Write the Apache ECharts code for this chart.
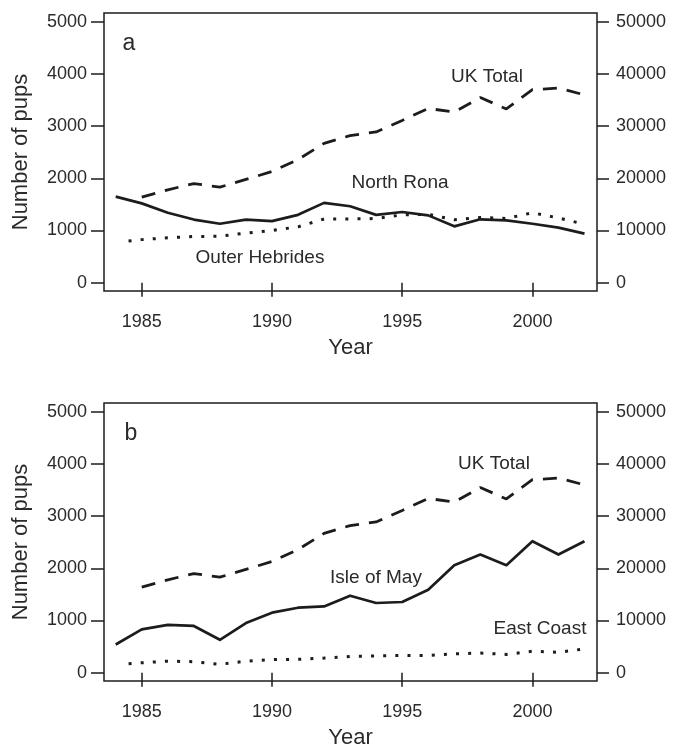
<!DOCTYPE html>
<html>
<head>
<meta charset="utf-8">
<title>Grey seal pup production</title>
<script src="https://cdn.jsdelivr.net/npm/echarts@6/dist/echarts.min.js"></script>
<style>
  html, body { margin: 0; padding: 0; background: #ffffff; }
  #chart { width: 673px; height: 751px; }
</style>
</head>
<body>
<div id="chart"></div>
<script>
// Survey years
var years = [1984, 1985, 1986, 1987, 1988, 1989, 1990, 1991, 1992, 1993,
             1994, 1995, 1996, 1997, 1998, 1999, 2000, 2001, 2002];

// UK total pup production, 1985-2002 (right axis)
var ukTotalYears = [1985, 1986, 1987, 1988, 1989, 1990, 1991, 1992, 1993,
                    1994, 1995, 1996, 1997, 1998, 1999, 2000, 2001, 2002];
var ukTotal = [16400, 17800, 19000, 18300, 19800, 21300, 23600, 26700, 28200,
               28900, 31100, 33400, 32700, 35500, 33300, 37000, 37300, 36000];

// Panel a: North Rona (left axis), Outer Hebrides (right axis)
var northRona = [1650, 1520, 1340, 1210, 1130, 1210, 1180, 1300, 1530, 1465,
                 1300, 1355, 1290, 1080, 1215, 1195, 1130, 1055, 940];
var outerHebrides = [7700, 8250, 8600, 8850, 8900, 9500, 10000, 10700, 12200, 12200,
                     12300, 13000, 13100, 12050, 12500, 12300, 13400, 12400, 11200];

// Panel b: Isle of May (left axis), East Coast (right axis)
var isleOfMay = [540, 830, 915, 895, 630, 950, 1150, 1245, 1270, 1475,
                 1335, 1355, 1590, 2060, 2265, 2060, 2520, 2265, 2520];
var eastCoast = [1500, 1900, 2200, 2100, 1600, 2200, 2500, 2550, 2800, 3100,
                 3200, 3300, 3300, 3600, 3750, 3500, 4100, 3900, 4550];

// Tick labels
var yearTicks = [1985, 1990, 1995, 2000];
var leftTicks = [0, 1000, 2000, 3000, 4000, 5000];
var rightTicks = [0, 10000, 20000, 30000, 40000, 50000];

function pairs(xs, ys) {
  return xs.map(function (x, i) { return [x, ys[i]]; });
}

var INK = '#1c1c1c';
var TEXT = '#2a2a2a';
var FONT = '"Liberation Sans", Arial, Helvetica, sans-serif';

// Dotted pattern: leading gap, then small square dots
var dotted = [0, 12.9];
for (var k = 0; k < 60; k++) { dotted.push(3, 9.15); }

var solidStyle = { color: INK, width: 2.7, type: 'solid', join: 'round' };
var dashedStyle = { color: INK, width: 2.8, type: [14, 10], cap: 'butt' };
var dottedStyle = { color: INK, width: 3, type: dotted, cap: 'butt' };

function xAxisFor(gridIndex) {
  return {
    type: 'value', gridIndex: gridIndex,
    min: 1983.55, max: 2002.48,
    axisLine: { show: false },
    axisTick: { show: true, inside: false, length: 14, customValues: yearTicks,
                lineStyle: { color: INK, width: 1.5 } },
    axisLabel: { customValues: yearTicks, margin: 22, fontSize: 18, color: TEXT,
                 fontFamily: FONT, formatter: function (v) { return String(v); } },
    splitLine: { show: false },
    name: 'Year', nameLocation: 'middle', nameGap: 46,
    nameTextStyle: { fontSize: 22, color: TEXT, fontFamily: FONT }
  };
}

function leftAxisFor(gridIndex) {
  return {
    type: 'value', gridIndex: gridIndex, position: 'left',
    min: -160, max: 5170,
    axisLine: { show: false },
    axisTick: { show: true, inside: false, length: 13, customValues: leftTicks,
                lineStyle: { color: INK, width: 1.5 } },
    axisLabel: { customValues: leftTicks, margin: 17, fontSize: 18, color: TEXT,
                 fontFamily: FONT, formatter: function (v) { return String(v); } },
    splitLine: { show: false },
    name: 'Number of pups', nameLocation: 'middle', nameGap: 72, nameRotate: 90,
    nameTextStyle: { fontSize: 22, color: TEXT, fontFamily: FONT }
  };
}

function rightAxisFor(gridIndex) {
  return {
    type: 'value', gridIndex: gridIndex, position: 'right',
    min: -1600, max: 51700,
    axisLine: { show: false },
    axisTick: { show: true, inside: false, length: 12, customValues: rightTicks,
                lineStyle: { color: INK, width: 1.5 } },
    axisLabel: { customValues: rightTicks, margin: 19, fontSize: 18, color: TEXT,
                 fontFamily: FONT, formatter: function (v) { return String(v); } },
    splitLine: { show: false }
  };
}

function line(name, xs, ys, xi, yi, style) {
  return {
    name: name, type: 'line', xAxisIndex: xi, yAxisIndex: yi,
    data: pairs(xs, ys), symbol: 'none', silent: true,
    lineStyle: style
  };
}

function label(text, x, y, size) {
  return {
    type: 'text', x: x, y: y, silent: true,
    style: { text: text, fill: TEXT, font: size + 'px ' + FONT,
             align: 'center', verticalAlign: 'middle' }
  };
}

var chart = echarts.init(document.getElementById('chart'), null, { renderer: 'canvas' });
chart.setOption({
  animation: false,
  backgroundColor: '#ffffff',
  grid: [
    { left: 104, top: 13, width: 493, height: 278, show: true,
      borderColor: INK, borderWidth: 1.5, backgroundColor: 'transparent' },
    { left: 104, top: 403, width: 493, height: 278, show: true,
      borderColor: INK, borderWidth: 1.5, backgroundColor: 'transparent' }
  ],
  xAxis: [xAxisFor(0), xAxisFor(1)],
  yAxis: [leftAxisFor(0), rightAxisFor(0), leftAxisFor(1), rightAxisFor(1)],
  series: [
    line('UK Total', ukTotalYears, ukTotal, 0, 1, dashedStyle),
    line('North Rona', years, northRona, 0, 0, solidStyle),
    line('Outer Hebrides', years, outerHebrides, 0, 1, dottedStyle),
    line('UK Total', ukTotalYears, ukTotal, 1, 3, dashedStyle),
    line('Isle of May', years, isleOfMay, 1, 2, solidStyle),
    line('East Coast', years, eastCoast, 1, 3, dottedStyle)
  ],
  graphic: [
    label('a', 129, 44, 23),
    label('UK Total', 487, 77, 19),
    label('North Rona', 400, 183, 19),
    label('Outer Hebrides', 260, 258, 19),
    label('b', 131, 434, 23),
    label('UK Total', 494, 464, 19),
    label('Isle of May', 376, 578, 19),
    label('East Coast', 540, 629, 19)
  ]
});
</script>
</body>
</html>
